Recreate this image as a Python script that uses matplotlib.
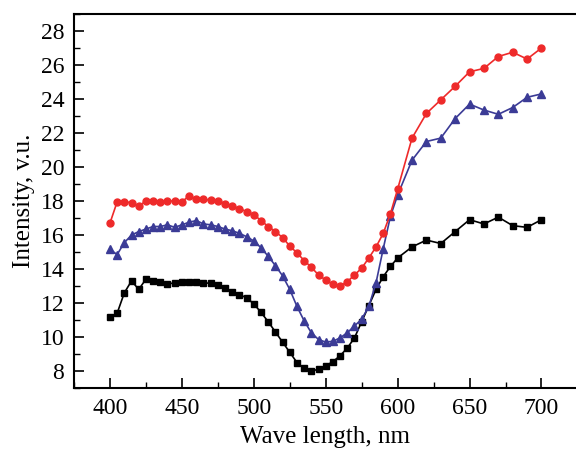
import numpy as np
import matplotlib
matplotlib.use('Agg')
import matplotlib.pyplot as plt
from matplotlib.ticker import MultipleLocator

plt.rcParams.update({
    'font.family': ['Liberation Serif', 'DejaVu Serif'],
    'font.size': 17,
    'xtick.direction': 'in',
    'ytick.direction': 'in',
})

# wavelength grid, nm
wavelength = list(range(400, 601, 5)) + list(range(610, 701, 10))

red = [16.7, 17.95, 17.95, 17.9, 17.7, 18.0, 18.0, 17.95, 18.0, 18.0,
       17.95, 18.3, 18.1, 18.1, 18.05, 18.0, 17.85, 17.7, 17.55, 17.38,
       17.2, 16.85, 16.5, 16.2, 15.85, 15.35, 14.95, 14.5, 14.1, 13.65,
       13.35, 13.1, 13.0, 13.25, 13.65, 14.05, 14.65, 15.3, 16.1, 17.25,
       18.7, 21.7, 23.15, 23.95, 24.75, 25.6, 25.8, 26.5, 26.75, 26.35, 27.0]

blue = [15.15, 14.85, 15.55, 16.0, 16.2, 16.35, 16.5, 16.5, 16.6, 16.45,
        16.6, 16.75, 16.85, 16.65, 16.6, 16.5, 16.35, 16.25, 16.1, 15.9,
        15.65, 15.25, 14.75, 14.2, 13.6, 12.8, 11.8, 10.95, 10.25, 9.85,
        9.7, 9.75, 9.95, 10.25, 10.65, 11.05, 11.8, 13.2, 15.2, 17.1,
        18.35, 20.4, 21.5, 21.7, 22.85, 23.7, 23.35, 23.1, 23.5, 24.1, 24.3]

black = [11.15, 11.4, 12.6, 13.3, 12.8, 13.4, 13.3, 13.25, 13.1, 13.2,
         13.25, 13.25, 13.25, 13.2, 13.15, 13.05, 12.9, 12.65, 12.5, 12.3,
         11.95, 11.45, 10.9, 10.3, 9.7, 9.1, 8.5, 8.15, 8.0, 8.1,
         8.3, 8.55, 8.9, 9.35, 9.95, 10.9, 11.85, 12.8, 13.55, 14.15,
         14.65, 15.3, 15.7, 15.5, 16.2, 16.9, 16.65, 17.05, 16.55, 16.45, 16.9]

fig = plt.figure(figsize=(5.76, 4.51), dpi=100)
ax = fig.add_axes([74 / 576, 1 - 388 / 451, 502 / 576, 374 / 451])

ax.plot(wavelength, black, color='black', marker='s', ms=4.5, lw=1.2)
ax.plot(wavelength, blue, color='#3b3b96', marker='^', ms=5.5, lw=1.2)
ax.plot(wavelength, red, color='#ee2a2a', marker='o', ms=5, lw=1.2)

ax.set_xlim(375, 724)
ax.set_ylim(7, 29)
ax.xaxis.set_major_locator(MultipleLocator(50))
ax.xaxis.set_minor_locator(MultipleLocator(25))
ax.yaxis.set_major_locator(MultipleLocator(2))
ax.yaxis.set_minor_locator(MultipleLocator(1))
ax.tick_params(which='major', length=7, width=1.2)
ax.tick_params(which='minor', length=4, width=1.0)
ax.tick_params(axis='x', which='major', pad=7)
ax.tick_params(axis='y', which='major', pad=7)
for s in ax.spines.values():
    s.set_linewidth(1.5)
ax.spines['right'].set_visible(False)  # frame is cut off at the right edge

ax.set_xlabel('Wave length, nm', fontsize=18, labelpad=5)
ax.set_ylabel('Intensity, v.u.', fontsize=18, labelpad=4)

fig.savefig('out.png', dpi=100, facecolor='white')
